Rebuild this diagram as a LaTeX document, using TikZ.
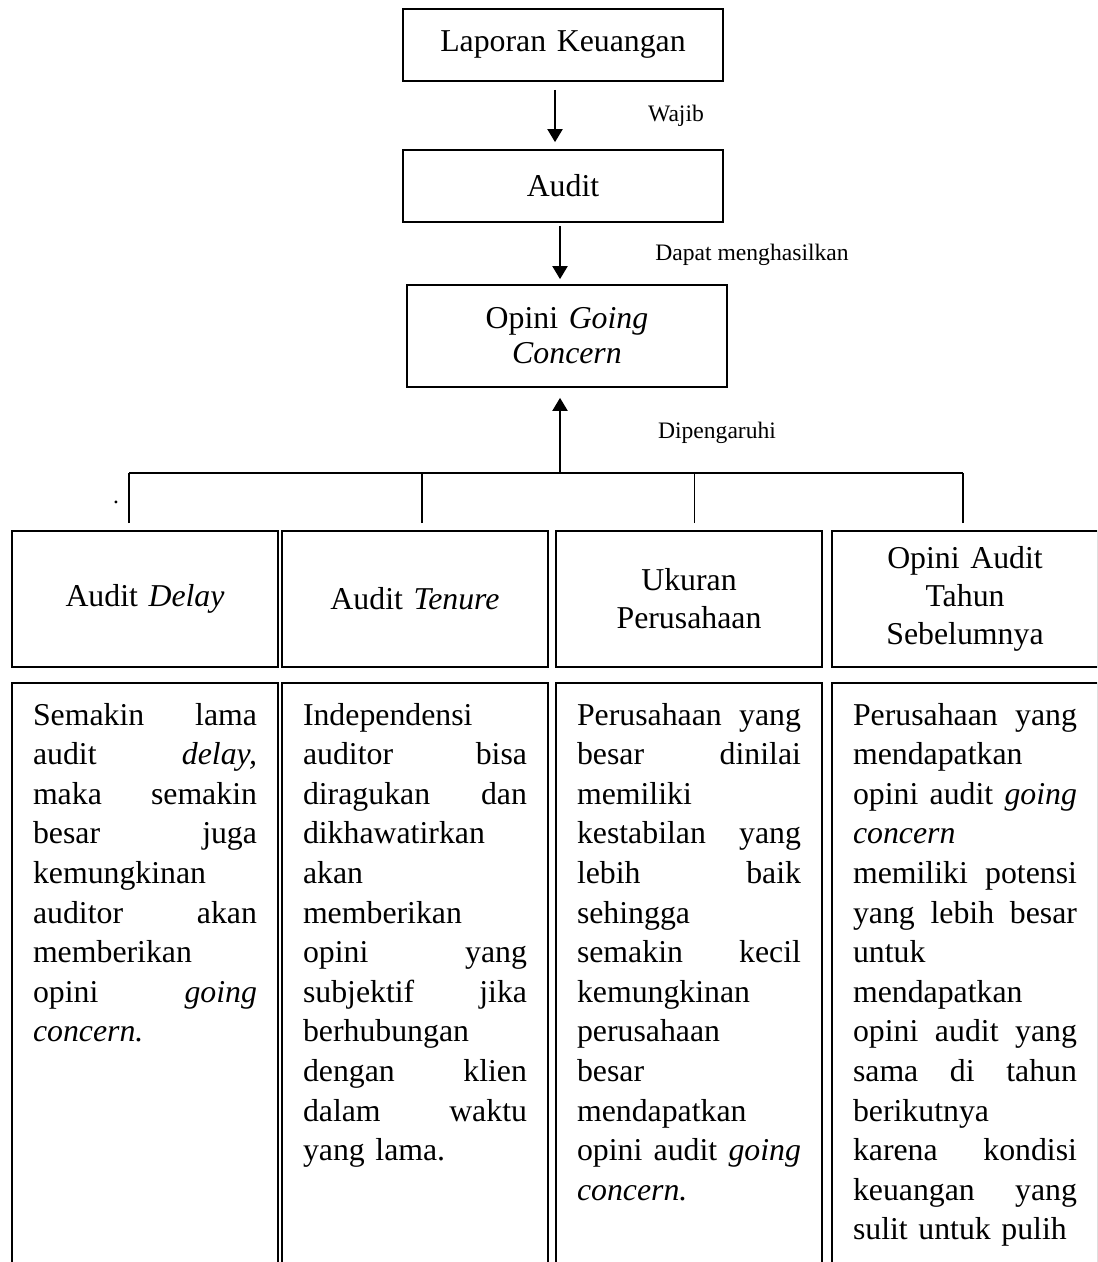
\documentclass[tikz,border=0pt]{standalone}
\usepackage{fontspec}
\setmainfont{Liberation Serif}
\usetikzlibrary{arrows.meta,positioning}
\newcommand{\diagfont}{\fontsize{15.9pt}{19pt}\selectfont}
\newcommand{\notefont}{\fontsize{15.9pt}{19.8pt}\selectfont}
\newcommand{\tagfont}{\fontsize{11.8pt}{14pt}\selectfont}
\tikzstyle{topblock} = [rectangle, draw, line width = 0.85pt, minimum width = 160pt, minimum height = 36pt, text width = 148pt, align = center]
\tikzstyle{factorblock} = [rectangle, draw, line width = 0.85pt, minimum width = 133pt, minimum height = 68pt, text width = 120pt, align = center]
\tikzstyle{noteblock} = [rectangle, draw, line width = 0.85pt, font = \notefont, text width = 112pt, inner xsep = 10.5pt, inner ysep = 0pt, text height = 21pt, text depth = 300pt, align = left]
\tikzstyle{edgelabel} = [font = \tagfont, inner sep = 0pt]
\tikzstyle{flow} = [draw, line width = 1pt, -{Triangle[width = 7.5pt, length = 6.5pt]}]
\tikzstyle{bus} = [draw, line width = 0.8pt]

\begin{document}
\begin{tikzpicture}[x = 0.5pt, y = -0.5pt]
\tikzstyle{every node}=[font=\diagfont];
\useasboundingbox (0,0) rectangle (1097,1262);
\clip (0,0) rectangle (1097,1262);

% alur utama
\node [topblock] (laporan) at (563,45) {Laporan Keuangan};
\node [topblock, below = 33.65pt of laporan] (audit) {Audit};
\node [topblock, below = 30.65pt of audit, xshift = 2pt, minimum height = 51pt, font = \fontsize{15.9pt}{17.5pt}\selectfont] (opini) {Opini \textit{Going}\\\textit{Concern}};

\draw [flow, shorten <= 4pt, shorten >= 3.5pt] ([xshift = -4pt]laporan.south) -- ([xshift = -4pt]laporan.south |- audit.north);
\draw [flow, shorten <= 1.5pt, shorten >= 2.5pt] ([xshift = -1.5pt]audit.south) -- ([xshift = -1.5pt]audit.south |- opini.north);

\node [edgelabel] (wajib) at (676,116) {Wajib};
\node [edgelabel] (hasil) at (752,255) {Dapat menghasilkan};
\node [edgelabel] (pengaruh) at (717,433) {Dipengaruhi};
\node [edgelabel] (titik) at (116,502) {.};

% faktor
\node [factorblock] (delay) at (145,599) {Audit \textit{Delay}};
\node [factorblock, right = 1.15pt of delay] (tenure) {Audit \textit{Tenure}};
\node [factorblock, right = 3.15pt of tenure] (ukuran) {Ukuran\\Perusahaan};
\node [factorblock, right = 4.15pt of ukuran] (opinilalu) {Opini Audit\\Tahun\\Sebelumnya};

\foreach \n/\dx in {delay/-8pt, tenure/3.5pt, ukuran/2.75pt, opinilalu/-1pt}
  \draw [bus] ([xshift = \dx, yshift = 3.5pt]\n.north) -- ([xshift = \dx, yshift = 28.5pt]\n.north) coordinate (atas-\n);
\draw [bus] (atas-delay) -- (atas-opinilalu);
\draw [flow, shorten >= 5pt] ([xshift = -3.5pt]opini.south |- atas-delay) -- ([xshift = -3.5pt]opini.south);

% keterangan
\node [noteblock, below = 7.15pt of delay] (ketdelay) {Semakin \hfill lama\\
audit \hfill \textit{delay,}\\
maka \hfill semakin\\
besar \hfill juga\\
kemungkinan\\
auditor \hfill akan\\
memberikan\\
opini \hfill \textit{going}\\
\textit{concern.}};
\node [noteblock, below = 7.15pt of tenure] (kettenure) {Independensi\\
auditor \hfill bisa\\
diragukan \hfill dan\\
dikhawatirkan\\
akan\\
memberikan\\
opini \hfill yang\\
subjektif \hfill jika\\
berhubungan\\
dengan \hfill klien\\
dalam \hfill waktu\\
yang lama.};
\node [noteblock, below = 7.15pt of ukuran] (ketukuran) {Perusahaan \hfill yang\\
besar \hfill dinilai\\
memiliki\\
kestabilan \hfill yang\\
lebih \hfill baik\\
sehingga\\
semakin \hfill kecil\\
kemungkinan\\
perusahaan\\
besar\\
mendapatkan\\
opini \hfill audit \hfill \textit{going}\\
\textit{concern.}};
\node [noteblock, below = 7.15pt of opinilalu] (ketopini) {Perusahaan \hfill yang\\
mendapatkan\\
opini \hfill audit \hfill \textit{going}\\
\textit{concern}\\
memiliki \hfill potensi\\
yang \hfill lebih \hfill besar\\
untuk\\
mendapatkan\\
opini \hfill audit \hfill yang\\
sama \hfill di \hfill tahun\\
berikutnya\\
karena \hfill kondisi\\
keuangan \hfill yang\\
sulit untuk pulih};
\end{tikzpicture}
\end{document}
